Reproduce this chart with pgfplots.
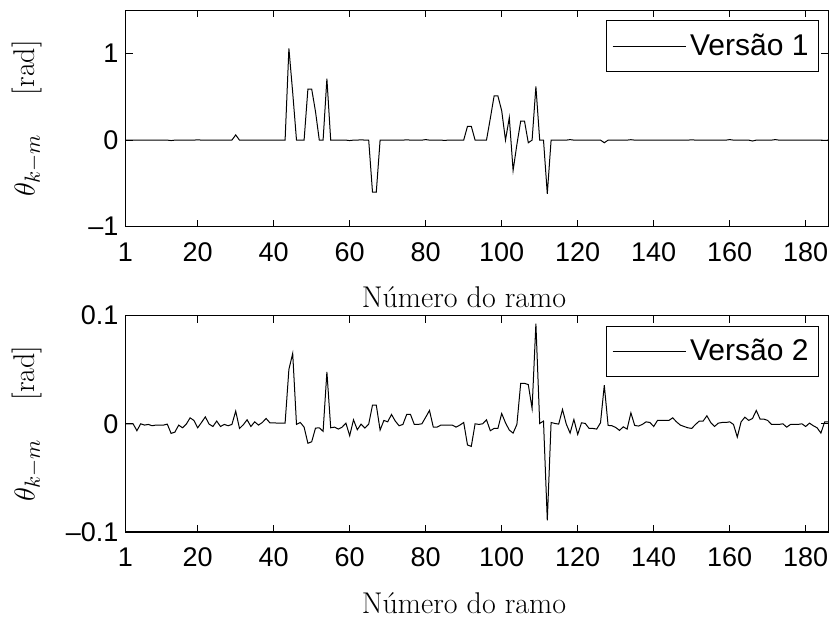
\documentclass[border=0pt]{standalone}
\usepackage{fontspec}
\usepackage{pgfplots}
\usepackage{pgfplotstable}
\pgfplotsset{compat=1.18}
\newfontfamily\arial{Liberation Sans}

\pgfplotstableread{
x v1 v2
1 0 0
2 0 0
3 0 0
4 0 -0.0064
5 0 0
6 0 -0.0012
7 0 -0.0006
8 0 -0.0018
9 0 -0.0012
10 0 -0.0012
11 0 -0.0012
12 0 -0.0003
13 -0.005 -0.0089
14 0 -0.0077
15 0 -0.0012
16 0 -0.0037
17 0 -0.0003
18 0 0.0055
19 0 0.0031
20 0.004 -0.0037
21 0 0.0012
22 0 0.0064
23 0 -0.0003
24 0 -0.0025
25 0 0.0025
26 0 -0.0025
27 0 -0.0006
28 0 -0.0018
29 0 -0.0006
30 0.06 0.0117
31 0 -0.0043
32 0 -0.0009
33 0 0.0037
34 0 -0.0025
35 0 0.0018
36 0 -0.0012
37 0 0.0012
38 0 0.0049
39 0 0.0009
40 0 0.0009
41 0 0.0006
42 0 0.0006
43 0 0.0006
44 1.06 0.0503
45 0.55 0.065
46 0 -0.0006
47 0 0.0012
48 0 -0.0031
49 0.59 -0.018
50 0.59 -0.0166
51 0.33 -0.004
52 0 -0.0037
53 0 -0.007
54 0.71 0.048
55 0 -0.0037
56 0 -0.0031
57 0 -0.0049
58 0 -0.0031
59 0 0.0006
60 -0.005 -0.011
61 0 0.0037
62 0 -0.0055
63 0.004 -0.0003
64 0 -0.004
65 0 -0.0003
66 -0.6 0.0172
67 -0.6 0.0172
68 0 -0.0058
69 0 0.0031
70 0 0.0018
71 0 0.0086
72 0 0.0025
73 0 -0.0018
74 0 -0.0006
75 0.004 0.0086
76 0 0.0086
77 0 -0.0006
78 0 -0.0006
79 0 0
80 0.006 0.0061
81 0 0.0123
82 0 -0.0031
83 0 -0.0031
84 0 -0.0012
85 -0.003 -0.0012
86 0 -0.0012
87 0 -0.0012
88 0 -0.0031
89 0 -0.0012
90 0 0.0012
91 0.16 -0.0196
92 0.16 -0.0209
93 0 0
94 0 -0.0006
95 0 0
96 0 0.0037
97 0.25 -0.0064
98 0.51 -0.0043
99 0.51 -0.0043
100 0.34 0.0095
101 0 0.0009
102 0.26 -0.0058
103 -0.35 -0.0086
104 -0.05 -0.0006
105 0.22 0.0374
106 0.22 0.0374
107 -0.03 0.0362
108 0 0.0141
109 0.62 0.0926
110 0 0.0003
111 0 0.0025
112 -0.62 -0.0892
113 0 0.0012
114 0 0.0003
115 0 -0.0003
116 0 0.0132
117 0 -0.0003
118 0.006 -0.0086
119 0 0.004
120 0 -0.0098
121 0 0.0009
122 0 0.0003
123 0 -0.0043
124 0 -0.0043
125 0 -0.0049
126 0 0.0009
127 -0.03 0.0356
128 0 -0.0015
129 0 -0.0018
130 0 -0.0034
131 0 -0.0061
132 0 -0.0028
133 0 -0.0049
134 0.005 0.0101
135 0 -0.0015
136 0 -0.0021
137 0 -0.0006
138 0 0.0018
139 0 0.0012
140 0 -0.0025
141 0 0.0031
142 0 0.0031
143 0 0.0031
144 0 0.0031
145 0 0.0055
146 0 0.0018
147 0 -0.0012
148 0 -0.0025
149 0 -0.0037
150 0.004 -0.0043
151 0 -0.0006
152 0 0.0025
153 0 0.0025
154 0 0.0074
155 0 0.0012
156 0 -0.0025
157 0 0.0006
158 0 0.0012
159 0 0.0012
160 0.006 0.0018
161 0 -0.0006
162 0 -0.0123
163 0 0.0018
164 0 0.0061
165 0 0.0031
166 -0.01 0.0049
167 0 0.0123
168 0 0.0043
169 0 0.0043
170 0 0.0031
171 0 -0.0006
172 0.006 -0.0006
173 0 -0.0006
174 0 0
175 0 -0.0031
176 0 -0.0006
177 0 -0.0006
178 0 -0.0006
179 0 0
180 0 -0.0025
181 0 0.0006
182 0 -0.0018
183 0 -0.0037
184 0 -0.0086
185 -0.004 0.0018
186 0 0.0018
}\data

\pgfplotsset{mystyle/.style={
  scale only axis, width=351.5pt, height=108.2pt,
  xmin=1, xmax=186,
  xtick={1,20,40,...,180},
  tick align=inside, major tick length=3.5pt,
  tick style={black, line width=0.4pt},
  axis line style={line width=0.6pt},
  ticklabel style={font=\arial\fontsize{13.5}{14}\selectfont},
  /pgf/number format/assume math mode=true,
  xticklabel style={anchor=base, yshift=-17.5pt},
  xlabel={Número do ramo},
  xlabel style={font=\fontsize{15}{16}\selectfont, at={(axis description cs:0.4815,-0.3757)}, anchor=base},
  ylabel={$\theta_{k-m}$\hspace{1.3em}[rad]},
  ylabel style={font=\fontsize{15}{16}\selectfont, at={(axis description cs:-0.1401,0.5)}, anchor=center},
  legend style={at={(rel axis cs:1,1)}, anchor=north east, xshift=-4.75pt, yshift=-5pt,
    draw=black, line width=0.5pt, font=\arial\fontsize{15}{16}\selectfont,
    inner xsep=3pt, inner ysep=4.5pt},
  legend image code/.code={\path (-1.5pt,0pt) -- (35pt,0pt); \draw[black, line width=0.5pt] (3pt,0pt) -- (32pt,0pt);},
}}

\begin{document}
\begin{tikzpicture}
\useasboundingbox (0,0) rectangle (416pt,309.5pt);
\begin{axis}[mystyle, at={(62.75pt,196.15pt)}, anchor=south west,
  ymin=-1, ymax=1.5, ytick={-1,0,1}, yticklabels={\textendash 1,0,1}]
\addplot[black, line width=0.5pt] table[x=x, y=v1] {\data};
\addlegendentry{Versão 1}
\end{axis}
\begin{axis}[mystyle, at={(62.75pt,43.5pt)}, anchor=south west,
  ymin=-0.1, ymax=0.1, ytick={-0.1,0,0.1}, yticklabels={\textendash 0.1,0,0.1}]
\addplot[black, line width=0.5pt] table[x=x, y=v2] {\data};
\addlegendentry{Versão 2}
\end{axis}
\end{tikzpicture}
\end{document}
